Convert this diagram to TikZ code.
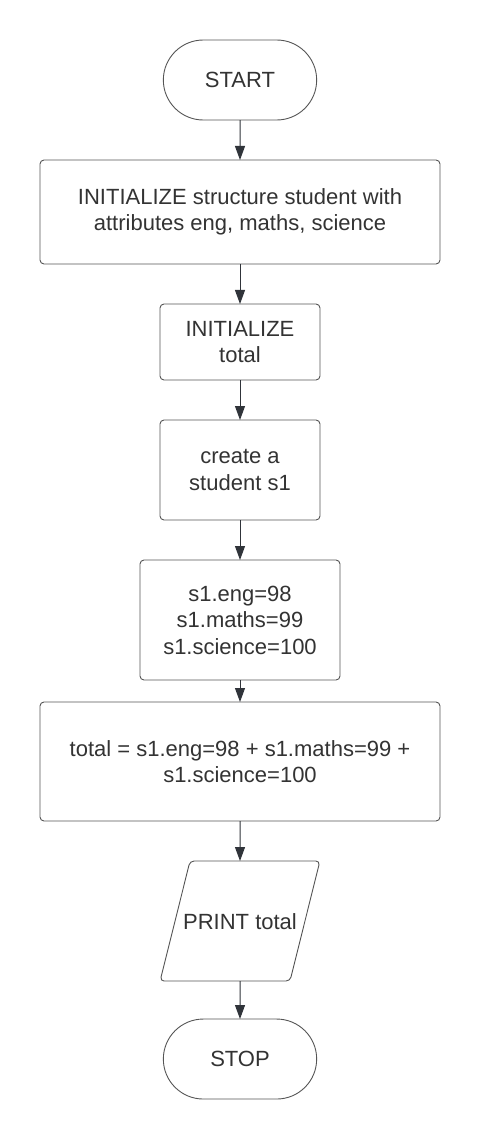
\documentclass[tikz,border=0pt]{standalone}
\usepackage{fontspec}
\setmainfont{Liberation Sans}
\usetikzlibrary{positioning, arrows.meta, shapes.geometric, shapes.misc}
\definecolor{ink}{HTML}{333333}
\definecolor{edge}{HTML}{555555}
\definecolor{arrowc}{HTML}{30343A}
\tikzset{
  blk/.style={draw=edge, fill=white, rounded corners=4pt, align=center, text=ink,
              font=\fontsize{22}{26.5}\selectfont, minimum width=#1, inner sep=2pt,
              outer sep=0pt, line width=0.9pt},
  blk/.default=160pt,
  term/.style={rounded rectangle, draw=edge, fill=white, text=ink, font=\fontsize{22}{26.5}\selectfont,
               minimum width=160pt, minimum height=80pt, outer sep=0pt, line width=0.9pt},
  io/.style={trapezium, trapezium left angle=76, trapezium right angle=104,
             draw=edge, fill=white, rounded corners=4pt, text=ink, font=\fontsize{22}{26.5}\selectfont,
             text height=16pt, text depth=0pt, inner xsep=0pt, inner ysep=52pt,
             outer sep=0pt, line width=0.9pt},
  arr/.style={-{Triangle[length=14pt, width=10pt]}, line width=1pt, draw=arrowc},
}
\begin{document}
\begin{tikzpicture}[x=1pt, y=1pt, node distance=40pt]
  \useasboundingbox (0,0) rectangle (480,-1139);
  \node[term] (st) at (240,-80) {START};
  \node[blk=400pt, minimum height=104pt, below=of st] (init) {INITIALIZE structure student with\\attributes eng, maths, science};
  \node[blk, minimum height=76pt, below=of init] (tot) {INITIALIZE\\total};
  \node[blk, minimum height=100pt, below=of tot] (mk) {create a\\student s1};
  \node[blk=200pt, minimum height=120pt, below=of mk] (asg) {s1.eng=98\\s1.maths=99\\s1.science=100};
  \node[blk=400pt, minimum height=119pt, below=22pt of asg] (sum) {total = s1.eng=98 + s1.maths=99 +\\s1.science=100};
  \node[io, below=of sum] (out) {\makebox[100pt]{PRINT total}};
  \node[term, below=38pt of out] (sp) {STOP};
  \draw[arr] (st) -- (init);
  \draw[arr] (init) -- (tot);
  \draw[arr] (tot) -- (mk);
  \draw[arr] (mk) -- (asg);
  \draw[arr] (asg) -- (sum);
  \draw[arr] (sum) -- (out);
  \draw[arr] (out) -- (sp);
\end{tikzpicture}
\end{document}
